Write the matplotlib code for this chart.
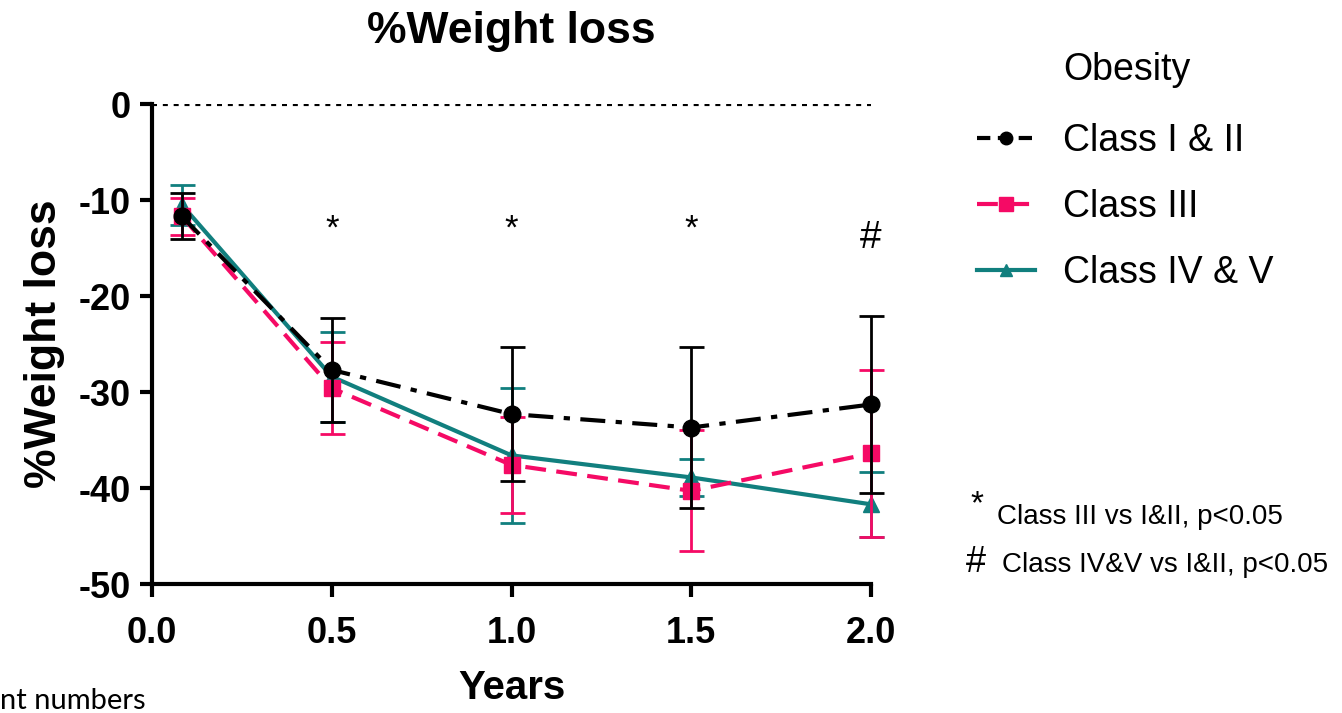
import matplotlib
matplotlib.use('Agg')
import matplotlib.pyplot as plt
from matplotlib.lines import Line2D

plt.rcParams['font.family'] = ['Liberation Sans', 'DejaVu Sans']

years = [0.083, 0.5, 1.0, 1.5, 2.0]

class12_mean = [-11.7, -27.7, -32.3, -33.7, -31.3]
class12_sd = [2.4, 5.4, 7.0, 8.4, 9.2]

class3_mean = [-11.7, -29.6, -37.6, -40.3, -36.4]
class3_sd = [1.9, 4.8, 5.0, 6.3, 8.7]

class45_mean = [-10.5, -28.4, -36.6, -38.9, -41.7]
class45_sd = [2.1, 4.7, 7.0, 1.9, 3.4]

sig_x = [0.5, 1.0, 1.5, 2.0]
sig_marks = ['*', '*', '*', '#']

black = '#000000'
pink = '#F50A65'
teal = '#117F7E'

ls12 = (0, (6, 2.5, 1.5, 2.5))
ls3 = (0, (5, 2.5))

fig = plt.figure(figsize=(13.42, 7.13), dpi=100)
ax = fig.add_axes([152/1342, 1 - 584/713, (871 - 152)/1342, (584 - 104)/713])

ax.axhline(0, color='black', lw=3, ls=(0, (1.2, 1.4)), zorder=1)

series = [
    (class45_mean, class45_sd, teal, '-', '^', 11, 3),
    (class3_mean, class3_sd, pink, ls3, 's', 12, 4),
    (class12_mean, class12_sd, black, ls12, 'o', 12, 5),
]
for mean, sd, c, ls, mk, ms, z in series:
    lines = ax.errorbar(years, mean, yerr=sd, color=c, lw=3, ls=ls,
                        marker=mk, ms=ms, capsize=9, capthick=2, elinewidth=2,
                        zorder=z)
    for art in lines.lines[0:1] + tuple(lines.lines[1]) + tuple(lines.lines[2]):
        art.set_clip_on(False)

sig_y = [-13.0, -13.0, -13.0, -14.0]
for x, m, y in zip(sig_x, sig_marks, sig_y):
    ax.text(x, y, m, ha='center', va='center',
            fontsize=25 if m == '*' else 28)

ax.set_xlim(0, 2.0)
ax.set_ylim(-50, 0)
ax.set_xticks([0.0, 0.5, 1.0, 1.5, 2.0])
ax.set_xticklabels(['0.0', '0.5', '1.0', '1.5', '2.0'])
ax.set_yticks([0, -10, -20, -30, -40, -50])
ax.set_yticklabels(['0', '-10', '-20', '-30', '-40', '-50'])
for lbl in ax.get_xticklabels() + ax.get_yticklabels():
    lbl.set_fontweight('bold')
    lbl.set_fontsize(26)
ax.tick_params(width=3, length=9, direction='out')
ax.tick_params(axis='x', pad=14)
ax.tick_params(axis='y', pad=6)
ax.spines['top'].set_visible(False)
ax.spines['right'].set_visible(False)
ax.spines['left'].set_linewidth(3)
ax.spines['bottom'].set_linewidth(3)

ax.set_title('%Weight loss', fontsize=32, fontweight='bold', pad=44)
ax.set_ylabel('%Weight loss', fontsize=32, fontweight='bold', labelpad=10)
ax.set_xlabel('Years', fontsize=29, fontweight='bold', labelpad=13)

handles = [
    Line2D([], [], color=black, lw=3, ls=(0, (3.2, 1.8)), marker='o', ms=9),
    Line2D([], [], color=pink, lw=3, ls=ls3, marker='s', ms=10),
    Line2D([], [], color=teal, lw=3, ls='-', marker='^', ms=9),
]
labels = ['Class I & II', 'Class III', 'Class IV & V']
fig.legend(handles, labels, loc='upper left', bbox_to_anchor=(962/1342, 1 - 108/713),
           frameon=False, fontsize=27, handlelength=1.55,
           labelspacing=0.8, handletextpad=0.75, borderaxespad=0)
fig.text(1063/1342, 1 - 70/713, 'Obesity', fontsize=27, va='center', ha='left')

fig.text(970/1342, 1 - 505/713, '*', fontsize=24, va='center')
fig.text(997/1342, 1 - 517/713, 'Class III vs I&II, p<0.05', fontsize=20, va='center')
fig.text(966/1342, 1 - 563/713, '#', fontsize=26, va='center')
fig.text(1002/1342, 1 - 565/713, 'Class IV&V vs I&II, p<0.05', fontsize=20, va='center')

fig.text(0, 1 - 701/713, 'nt numbers', fontsize=21, va='center', ha='left', family='Lato')

fig.savefig('out.png', dpi=100)
